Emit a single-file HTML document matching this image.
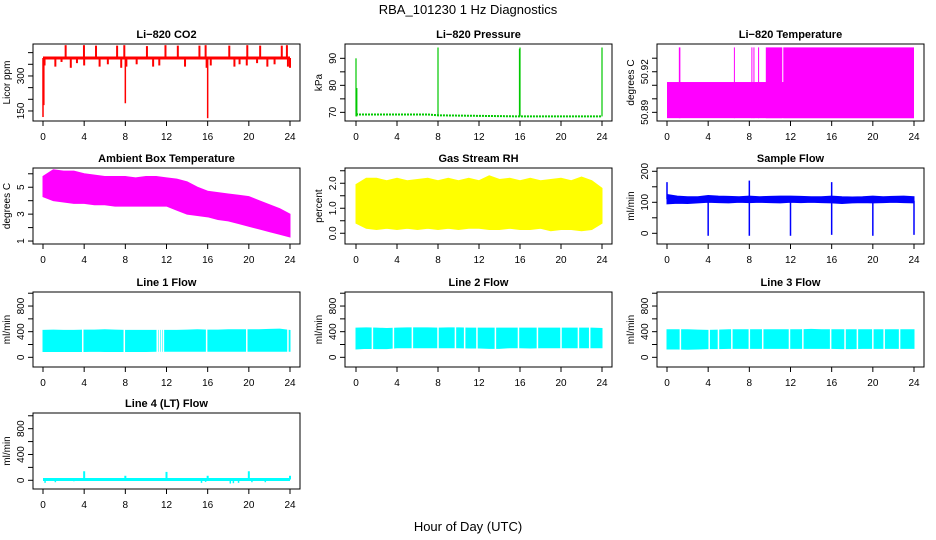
<!DOCTYPE html>
<html><head><meta charset="utf-8"><style>
html,body{margin:0;padding:0;background:#fff;}
svg{display:block;font-family:"Liberation Sans",Arial,sans-serif;}
</style></head><body>
<svg id="chart" width="936" height="540" viewBox="0 0 936 540" xmlns="http://www.w3.org/2000/svg">
<text x="468" y="14" text-anchor="middle" font-size="13">RBA_101230  1 Hz Diagnostics</text>
<text x="468" y="531" text-anchor="middle" font-size="13">Hour of Day (UTC)</text>
</svg>
<script>
// ---- data ----
const hours = [0,1,2,3,4,5,6,7,8,9,10,11,12,13,14,15,16,17,18,19,20,21,22,23,24];
const xTicks = [0,4,8,12,16,20,24];
// CO2
const co2Base = 377;
const co2UpT = [2.2,3.98,5.15,7.2,7.9,10.1,11.9,13.1,15.2,15.8,18.1,19.85,21.1,23.2,23.7];
const co2UpV = [432,432,430,430,432,428,432,430,430,432,430,432,430,430,432];
const co2DnT = [0.15,1.2,1.8,2.7,3.3,4.0,5.5,6.3,7.6,8.1,9.1,10.7,11.3,13.8,15.9,16.3,18.6,19.1,19.8,20.8,21.8,22.5,23.8,24.0];
const co2DnV = [345,340,360,335,355,345,340,350,335,340,350,340,345,340,335,345,340,350,345,355,340,350,340,335];
const co2BigT = [0.0,0.08,8.0,16.0];
const co2BigV = [124,175,183,119];
// Pressure
const presT = [0,0.3,7,8.1,12,16.1,24];
const presV = [69.3,69.2,69.2,68.9,68.7,68.5,68.5];
const presSpikeT = [0.0,0.08,8.0,16.0,15.95,24.0];
const presSpikeV = [90,79,94,94,93.5,94];
// Li-820 temperature
const tempLow = 50.8857, tempMid = 50.9124, tempHigh = 50.938;
const tempHiStart = [1.15,6.5,8.2,8.4,8.85,9.6,11.3];
const tempHiEnd = [1.3,6.55,8.25,8.45,8.95,11.2,24.0];
// Ambient box temp
const ambUpper = [5.8,6.3,6.2,6.2,6.0,5.9,5.8,5.8,5.8,5.7,5.8,5.8,5.7,5.6,5.4,5.0,4.7,4.6,4.5,4.4,4.3,4.0,3.7,3.4,3.0];
const ambLower = [4.3,4.0,3.9,3.8,3.8,3.7,3.7,3.6,3.6,3.6,3.6,3.6,3.6,3.3,3.0,2.9,2.8,2.6,2.5,2.3,2.1,1.9,1.7,1.5,1.3];
// Gas stream RH
const rhUpper = [1.95,2.2,2.2,2.1,2.2,2.1,2.15,2.2,2.1,2.2,2.1,2.2,2.1,2.3,2.15,2.2,2.1,2.2,2.1,2.15,2.2,2.1,2.25,2.1,1.8];
const rhLower = [0.4,0.2,0.15,0.2,0.15,0.2,0.15,0.2,0.15,0.2,0.15,0.2,0.2,0.15,0.15,0.2,0.15,0.15,0.2,0.1,0.15,0.15,0.1,0.15,0.4];
// Sample flow
const sfUpper = [125,120,118,118,122,120,119,118,120,118,119,120,120,119,118,118,120,118,117,118,120,118,119,120,118];
const sfLower = [95,97,96,98,100,99,98,100,99,100,99,98,100,99,100,99,98,96,98,99,98,99,100,99,98];
const sfDipT = [4,8,12,16,20,24];
const sfDipV = [-8,-8,-8,-5,-8,-5];
const sfPeakT = [0,8,16];
const sfPeakV = [165,170,165];
// Line flows
const l1Upper = [420,425,420,420,425,425,430,425,420,420,420,420,420,420,425,430,425,425,430,430,430,430,435,440,420];
const l1Lower = [90,90,90,90,90,95,90,90,90,90,90,95,95,95,95,95,95,95,95,95,95,95,95,95,95];
const l1Gaps = [3.86,7.9,11.1,11.3,11.5,11.7,15.9,19.8,23.8];
const l2Upper = [455,460,455,450,455,460,460,460,455,460,460,455,455,455,455,455,455,455,455,455,455,455,455,455,450];
const l2Lower = [130,140,135,135,150,150,150,150,150,150,150,145,145,140,140,150,150,145,150,150,150,150,150,150,150];
const l2Gaps = [1.6,3.65,5.5,8.0,9.7,10.6,11.8,13.6,15.85,17.7,20.0,21.7,22.8];
const l3Upper = [430,430,430,425,420,425,430,430,430,430,430,430,430,430,435,430,430,430,430,430,430,430,430,430,430];
const l3Lower = [130,130,125,130,135,135,140,140,140,140,140,140,140,140,140,140,140,135,135,140,140,140,140,140,140];
const l3Gaps = [1.3,4.1,5.0,6.3,8.0,9.3,11.9,13.2,15.9,17.3,18.5,20.0,21.1,22.6];
// Line 4
const l4Base = 12;
const l4UpT = [4,8,12,16,20,24];
const l4UpV = [140,70,130,70,140,70];
const l4DnT = [0.2,1.2,3.0,15.4,15.8,18.2,18.5,19.0,20.3,21.6];
const l4DnV = [-40,-30,-15,-40,-25,-50,-45,-40,-30,-30];

// ---- geometry ----
const NS = "http://www.w3.org/2000/svg";
const svg = document.getElementById('chart');
const cols = [{bx0:33,bx1:300,x0:43,x24:290},{bx0:345,bx1:612,x0:356,x24:602},{bx0:657,bx1:924,x0:667,x24:914}];
const rows = [[44,121],[168,244],[292,367],[413,489]];
function el(tag, attrs, parent){
  const e = document.createElementNS(NS, tag);
  for (const k in attrs) e.setAttribute(k, attrs[k]);
  (parent||svg).appendChild(e);
  return e;
}
function panel(key, title, ci, ri, ylo, yhi, ticks, labels, ylabel){
  const c = cols[ci], r = rows[ri];
  const g = el('g', {});
  
  
  const sx = h => c.x0 + (h / 24) * (c.x24 - c.x0);
  const sy = v => r[1] - (v - ylo) / (yhi - ylo) * (r[1] - r[0]);
  const clipId = 'clip-' + key;
  const cp = el('clipPath', {id: clipId}, g);
  el('rect', {x:c.bx0, y:r[0], width:c.bx1-c.bx0, height:r[1]-r[0]}, cp);
  const plot = el('g', {'clip-path':'url(#' + clipId + ')'}, g);
  
  
  const t = el('text', {x:(c.bx0+c.bx1)/2, y:r[0]-6, 'text-anchor':'middle', 'font-size':'11', 'font-weight':'bold'}, g);
  t.textContent = title;
  
  
  const box = el('rect', {x:c.bx0, y:r[0], width:c.bx1-c.bx0, height:r[1]-r[0], fill:'none', stroke:'#000', 'stroke-width':'1'}, g);
  
  
  const xa = el('g', {}, g);
  
  
  el('line', {x1:sx(0), x2:sx(24), y1:r[1], y2:r[1], stroke:'#000'}, xa);
  xTicks.forEach(h => {
    el('line', {x1:sx(h), x2:sx(h), y1:r[1], y2:r[1]+5, stroke:'#000'}, xa);
    const tl = el('text', {x:sx(h), y:r[1]+19, 'text-anchor':'middle', 'font-size':'10'}, xa);
    tl.textContent = h;
    
    
  });
  const ya = el('g', {}, g);
  
  
  el('line', {x1:c.bx0, x2:c.bx0, y1:sy(ticks[0]), y2:sy(ticks[ticks.length-1]), stroke:'#000'}, ya);
  ticks.forEach(v => el('line', {x1:c.bx0-5, x2:c.bx0, y1:sy(v), y2:sy(v), stroke:'#000'}, ya));
  labels.forEach(l => {
    const yy = sy(parseFloat(l)), xx = c.bx0 - 9;
    const tl = el('text', {x:xx, y:yy, 'text-anchor':'middle', 'font-size':'10', transform:'rotate(-90 ' + xx + ' ' + yy + ')'}, ya);
    tl.textContent = l;
    
    
  });
  const yt = el('text', {x:c.bx0-23, y:(r[0]+r[1])/2, 'text-anchor':'middle', 'font-size':'10', transform:'rotate(-90 ' + (c.bx0-23) + ' ' + (r[0]+r[1])/2 + ')'}, g);
  yt.textContent = ylabel;
  
  
  return {sx, sy, plot};
}
function band(p, ts, up, lo, color, name){
  let d = 'M' + ts.map((t,i) => p.sx(t) + ',' + p.sy(up[i])).join('L');
  for (let i = ts.length-1; i >= 0; i--) d += 'L' + p.sx(ts[i]) + ',' + p.sy(lo[i]);
  const e = el('path', {d: d + 'Z', fill: color, stroke: color, 'stroke-width':'1'}, p.plot);
  
  
}
function vseg(p, t, v0, v1, color, w, name){
  const e = el('line', {x1:p.sx(t), x2:p.sx(t), y1:p.sy(v0), y2:p.sy(v1), stroke:color, 'stroke-width':w}, p.plot);
  
  
}
function hline(p, t0, t1, v, color, w, name){
  const e = el('line', {x1:p.sx(t0), x2:p.sx(t1), y1:p.sy(v), y2:p.sy(v), stroke:color, 'stroke-width':w}, p.plot);
  
  
}
function gaps(p, gs, color, name){
  gs.forEach(t => {
    const e = el('line', {x1:p.sx(t), x2:p.sx(t), y1:p.sy(-200), y2:p.sy(1200), stroke:color, 'stroke-width':'1.5'}, p.plot);
    
    
  });
}

let p = panel('co2', 'Li\u2212820 CO2', 0, 0, 107, 437, [150,200,250,300,350,400], ['150','300'], 'Licor ppm');
hline(p, 0, 24, co2Base, '#f00', 3, 'co2-series');
co2UpT.forEach((t,i) => vseg(p, t, co2Base, co2UpV[i], '#f00', 2, 'co2-spike-up'));
co2DnT.forEach((t,i) => vseg(p, t, co2Base, co2DnV[i], '#f00', 2, 'co2-spike-down'));
co2BigT.forEach((t,i) => vseg(p, t, co2Base, co2BigV[i], '#f00', 1.5, 'co2-dropout'));

p = panel('pressure', 'Li\u2212820 Pressure', 1, 0, 66.8, 95.3, [70,75,80,85,90], ['70','80','90'], 'kPa');
{
  const e = el('polyline', {points: presT.map((t,i) => p.sx(t) + ',' + p.sy(presV[i])).join(' '), fill:'none', stroke:'#00c800', 'stroke-width':'2', 'stroke-dasharray':'2 1'}, p.plot);
  
  
}
presSpikeT.forEach((t,i) => vseg(p, t, 68.5, presSpikeV[i], '#00c800', 1.2, 'pressure-spike'));

p = panel('li820-temp', 'Li\u2212820 Temperature', 2, 0, 50.8836, 50.9405, [50.89,50.90,50.91,50.92,50.93], ['50.89','50.92'], 'degrees C');
{
  const e = el('rect', {x:p.sx(0), y:p.sy(tempMid), width:p.sx(24)-p.sx(0), height:p.sy(tempLow)-p.sy(tempMid), fill:'#f0f'}, p.plot);
  
  
}
tempHiStart.forEach((t,i) => {
  const e = el('rect', {x:p.sx(t), y:p.sy(tempHigh), width:Math.max(1, p.sx(tempHiEnd[i])-p.sx(t)), height:p.sy(tempLow)-p.sy(tempHigh), fill:'#f0f'}, p.plot);
  
  
});

p = panel('ambient', 'Ambient Box Temperature', 0, 1, 0.78, 6.43, [1,2,3,4,5,6], ['1','3','5'], 'degrees C');
band(p, hours, ambUpper, ambLower, '#f0f', 'ambient-temp-series');

p = panel('rh', 'Gas Stream RH', 1, 1, -0.43, 2.61, [0,0.5,1,1.5,2,2.5], ['0.0','1.0','2.0'], 'percent');
band(p, hours, rhUpper, rhLower, '#ff0', 'rh-series');

p = panel('sample-flow', 'Sample Flow', 2, 1, -34.5, 210.6, [0,50,100,150,200], ['0','100','200'], 'ml/min');
band(p, hours, sfUpper, sfLower, '#00f', 'sample-flow-series');
sfDipT.forEach((t,i) => vseg(p, t, 105, sfDipV[i], '#00f', 1.5, 'sample-flow-dip'));
sfPeakT.forEach((t,i) => vseg(p, t, 110, sfPeakV[i], '#00f', 1.5, 'sample-flow-peak'));

const flowTicks = [0,200,400,600,800,1000], flowLabels = ['0','400','800'];
p = panel('line1', 'Line 1 Flow', 0, 2, -151, 1019, flowTicks, flowLabels, 'ml/min');
band(p, hours, l1Upper, l1Lower, '#0ff', 'line1-flow-series');
gaps(p, l1Gaps, '#fff', 'line1-gap');
p = panel('line2', 'Line 2 Flow', 1, 2, -151, 1019, flowTicks, flowLabels, 'ml/min');
band(p, hours, l2Upper, l2Lower, '#0ff', 'line2-flow-series');
gaps(p, l2Gaps, '#fff', 'line2-gap');
p = panel('line3', 'Line 3 Flow', 2, 2, -151, 1019, flowTicks, flowLabels, 'ml/min');
band(p, hours, l3Upper, l3Lower, '#0ff', 'line3-flow-series');
gaps(p, l3Gaps, '#fff', 'line3-gap');
p = panel('line4', 'Line 4 (LT) Flow', 0, 3, -135, 1043, flowTicks, flowLabels, 'ml/min');
hline(p, 0, 24, l4Base, '#0ff', 3, 'line4-flow-series');
l4UpT.forEach((t,i) => vseg(p, t, l4Base, l4UpV[i], '#0ff', 2, 'line4-spike-up'));
l4DnT.forEach((t,i) => vseg(p, t, l4Base, l4DnV[i], '#0ff', 1.5, 'line4-spike-down'));
</script>
</body></html>
